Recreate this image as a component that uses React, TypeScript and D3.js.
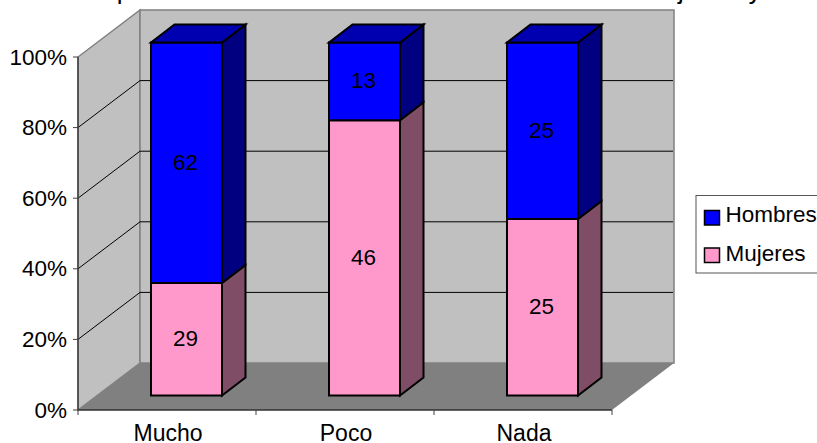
import React from "react";
import * as d3 from "d3";

const categories = ["Mucho", "Poco", "Nada"];
const hombres = [62, 13, 25];
const mujeres = [29, 46, 25];
const seriesNames = ["Mujeres", "Hombres"];
const yTicks = [0, 0.2, 0.4, 0.6, 0.8, 1];
// Only the descender tips of the title survive the crop at the top of the picture.
const titleFragments = [
  { text: "p", x: 124 },
  { text: "j", x: 681 },
  { text: "y", x: 755 },
];

const W = 817, H = 443;
const FONT = "'Liberation Sans', Arial, sans-serif";
const WALL = "#c0c0c0", FLOOR = "#808080", EDGE = "#808080";
const colors: Record<string, { front: string; side: string; top: string }> = {
  Hombres: { front: "#0000ff", side: "#000080", top: "#0000b0" },
  Mujeres: { front: "#ff99cc", side: "#804d66", top: "#b06b8e" },
};

const x0 = 78, x1 = 612, yBase = 410, yTop = 57;
const depthX = 62, depthY = -47;
const barOffsetX = 19.5, barOffsetY = -14.5;
const barW = 71, barDX = 23.5, barDY = -18;
const LABEL = 22.5;

const x = d3.scaleBand<string>().domain(categories).range([x0, x1]);
const y = d3.scaleLinear().domain([0, 1]).range([yBase, yTop]);
const barY = d3.scaleLinear().domain([0, 1]).range([yBase + barOffsetY, yTop + barOffsetY]);

const rows = categories.map((c, i) => ({ c, Mujeres: mujeres[i], Hombres: hombres[i] }));
const stacked = d3.stack<any>().keys(seriesNames).offset(d3.stackOffsetExpand)(rows);

const poly = (pts: number[][]) => pts.map((p) => p.join(",")).join(" ");

export default function App() {
  return (
    <svg width={W} height={H} viewBox={`0 0 ${W} ${H}`} fontFamily={FONT}
      style={{ position: "absolute", left: 0, top: 0, background: "#fff" }}>
      {titleFragments.map((f) => (
        <text key={f.x} x={f.x} y={-1.5} fontSize={26} textAnchor="middle" fill="#000">{f.text}</text>
      ))}

      <polygon points={poly([[x0, yBase], [x0, yTop], [x0 + depthX, yTop + depthY], [x0 + depthX, yBase + depthY]])}
        fill={WALL} stroke={EDGE} strokeWidth={1.5} />
      <polygon points={poly([[x0 + depthX, yTop + depthY], [x1 + depthX, yTop + depthY], [x1 + depthX, yBase + depthY], [x0 + depthX, yBase + depthY]])}
        fill={WALL} stroke={EDGE} strokeWidth={1.5} />
      <polygon points={poly([[x0, yBase], [x0 + depthX, yBase + depthY], [x1 + depthX, yBase + depthY], [x1, yBase]])}
        fill={FLOOR} />

      {yTicks.filter((t) => t > 0 && t < 1).map((t) => (
        <polyline key={t} fill="none" stroke="#000" strokeWidth={1}
          points={poly([[x0, y(t)], [x0 + depthX, y(t) + depthY], [x1 + depthX - 1, y(t) + depthY]])} />
      ))}

      <line x1={x0} x2={x0} y1={yTop} y2={yBase} stroke="#404040" strokeWidth={1.5} />
      <line x1={x0} x2={x1} y1={yBase} y2={yBase} stroke="#303030" strokeWidth={1.5} />
      {yTicks.map((t) => (
        <g key={t}>
          <line x1={x0 - 5} x2={x0} y1={y(t)} y2={y(t)} stroke="#404040" strokeWidth={1} />
          <text x={67} y={y(t) + 7.5} textAnchor="end" fontSize={LABEL} fill="#000">{`${Math.round(t * 100)}%`}</text>
        </g>
      ))}
      {[...categories.map((c) => x(c) as number), x1].map((v) => (
        <line key={v} x1={v} x2={v} y1={yBase} y2={yBase + 5} stroke="#404040" strokeWidth={1} />
      ))}
      {categories.map((c) => (
        <text key={c} x={(x(c) as number) + x.bandwidth() / 2 + 1} y={441} textAnchor="middle" fontSize={23} fill="#000">{c}</text>
      ))}

      {categories.map((c, i) => {
        const left = (x(c) as number) + x.bandwidth() / 2 - barW / 2 + barOffsetX;
        const right = left + barW;
        return (
          <g key={c}>
            {stacked.map((s) => {
              const col = colors[s.key];
              const yb = barY(s[i][0]), yt = barY(s[i][1]);
              const isTop = s[i][1] === 1;
              return (
                <g key={s.key} stroke="#000" strokeWidth={2} strokeLinejoin="miter">
                  <rect x={left} y={yt} width={barW} height={yb - yt} fill={col.front} />
                  <polygon fill={col.side} points={poly([[right, yb], [right, yt], [right + barDX, yt + barDY], [right + barDX, yb + barDY]])} />
                  {isTop && (
                    <polygon fill={col.top} points={poly([[left, yt], [right, yt], [right + barDX, yt + barDY], [left + barDX, yt + barDY]])} />
                  )}
                </g>
              );
            })}
            {stacked.map((s) => {
              const val = s.key === "Hombres" ? hombres[i] : mujeres[i];
              return (
                <text key={s.key} x={left + barW / 2 - 1} y={(barY(s[i][0]) + barY(s[i][1])) / 2 + 7}
                  textAnchor="middle" fontSize={LABEL} fill="#000">{val}</text>
              );
            })}
          </g>
        );
      })}

      <rect x={696} y={195.5} width={130} height={77.5} fill="#fff" stroke="#555" strokeWidth={1} />
      {["Hombres", "Mujeres"].map((n, i) => (
        <g key={n}>
          <rect x={704.5} y={i === 0 ? 210.5 : 248} width={15} height={14.5} fill={colors[n].front} stroke="#000" strokeWidth={1.5} />
          <text x={725.5} y={i === 0 ? 222 : 261} fontSize={22.5} fill="#000">{n}</text>
        </g>
      ))}
    </svg>
  );
}
